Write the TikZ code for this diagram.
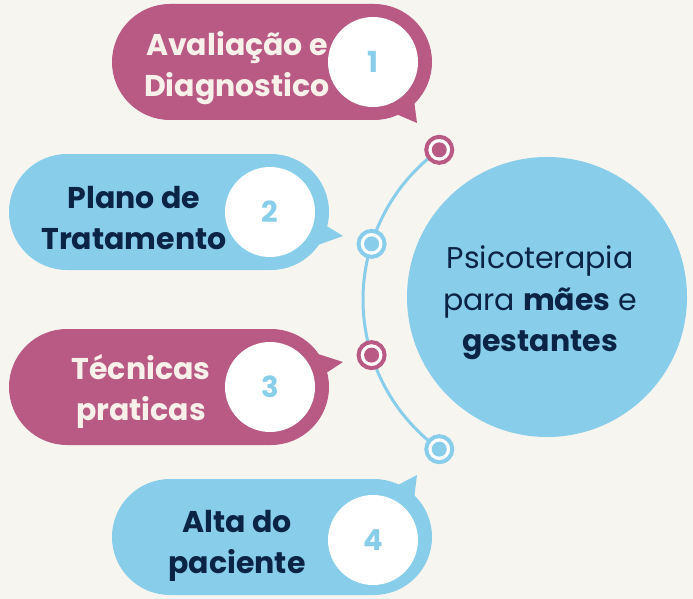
\documentclass[tikz,border=0pt]{standalone}
\usepackage{fontspec}
\setmainfont{Poppins}
\usetikzlibrary{shapes.misc}
\definecolor{bg}{HTML}{F7F5F0}
\definecolor{pinkc}{HTML}{B95A84}
\definecolor{bluec}{HTML}{88CEEA}
\definecolor{navy}{HTML}{0B2446}
\definecolor{cream}{HTML}{F8F0EA}
\begin{document}
\begin{tikzpicture}[x=1pt,y=-1pt,
  pill/.style={rounded rectangle, fill=#1, minimum width=320pt, minimum height=116pt, inner sep=0pt},
  numc/.style={circle, fill=white, minimum size=90pt, inner sep=0pt, text=bluec, font=\fontsize{29}{29}\selectfont\bfseries},
  lbl/.style={align=center, text=#1, font=\fontsize{30}{41}\selectfont\bfseries},
  dotring/.style={circle, draw=#1, line width=4pt, fill=white, minimum size=26pt, inner sep=0pt},
  dotin/.style={circle, fill=#1, minimum size=15pt, inner sep=0pt},
  arcline/.style={draw=bluec, line width=3pt}]
\fill[bg] (0,0) rectangle (693,599);
\useasboundingbox (0,0) rectangle (693,599);

% central circle
\node[circle, fill=bluec, minimum size=280pt, inner sep=0pt] (main) at (547,297) {};
\node[align=center, text=navy, font=\fontsize{30}{41.5}\selectfont] (maintext) at (540,303)
  {Psicoterapia\\para \textbf{mães} e\\\textbf{gestantes}};

% arc
\coordinate (ctr) at (548,299.5);
\path (ctr) ++(234:185) coordinate (p1);
\path (ctr) ++(197.5:185) coordinate (p2);
\path (ctr) ++(162.5:185) coordinate (p3);
\path (ctr) ++(126:185) coordinate (p4);
\draw[arcline] (p1) arc[start angle=234, end angle=126, radius=185];

% bubble 1
\node[pill=pinkc] (b1) at (272,62) {};
\fill[pinkc] (396,114) -- (417,123) coordinate (t1) -- (414,100) -- cycle;
\node[numc] (n1) at (373,62) {1};
\node[lbl=cream] (l1) at (237,68) {Avaliação e\\Diagnostico};

% bubble 2
\node[pill=bluec] (b2) at (169,212) {};
\fill[bluec] (320,222) -- (343,236) coordinate (t2) -- (315,246) -- cycle;
\node[numc] (n2) at (270,212) {2};
\node[lbl=navy] (l2) at (134,218) {Plano de\\Tratamento};

% bubble 3
\node[pill=pinkc] (b3) at (169,387) {};
\fill[pinkc] (320,377) -- (343,362) coordinate (t3) -- (315,353) -- cycle;
\node[numc] (n3) at (270,387) {3};
\node[lbl=cream] (l3) at (141,391) {Técnicas\\praticas};

% bubble 4
\node[pill=bluec] (b4) at (272,537) {};
\fill[bluec] (396,486) -- (417,475) coordinate (t4) -- (414,499) -- cycle;
\node[numc] (n4) at (373,540) {4};
\node[lbl=navy] (l4) at (237,546) {Alta do\\paciente};

% dots
\node[dotring=pinkc] (d1) at (p1) {};
\node[dotin=pinkc] at (d1) {};
\node[dotring=bluec] (d2) at (p2) {};
\node[dotin=bluec] at (d2) {};
\node[dotring=pinkc] (d3) at (p3) {};
\node[dotin=pinkc] at (d3) {};
\node[dotring=bluec] (d4) at (p4) {};
\node[dotin=bluec] at (d4) {};
\end{tikzpicture}
\end{document}
